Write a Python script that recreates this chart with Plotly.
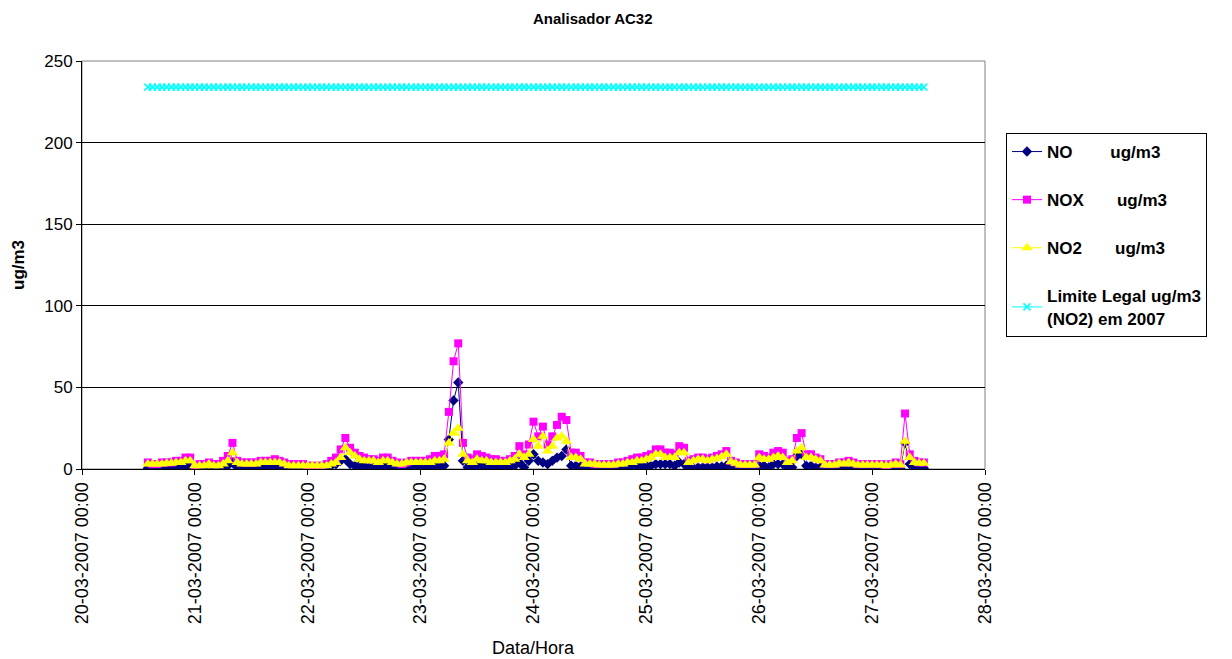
import pandas as pd
import plotly.graph_objects as go

# ---------------- data (hourly, 20-03-2007 14:00 .. 27-03-2007 11:00) ----------------
START = "2007-03-20 14:00"

NO = [
    # 20-03 14h-23h
    0.5, 0.3, 0.3, 0.5, 0.5, 0.8, 1.0, 1.0, 2.0, 1.5,
    # 21-03
    0.2, 0.5, 0.5, 0.5, 0.5, 0.5, 1.5, 2, 4, 1, 0.5, 0.5, 0.5, 0.5, 0.8, 0.8, 0.8, 1.5, 1, 0.5, 0.3, 0.3, 0.3, 0.3,
    # 22-03
    0.3, 0.2, 0.2, 0.2, 0.5, 2, 3, 5, 6, 3, 2, 2, 2, 1, 1, 1, 2, 2, 1, 1, 0.3, 0.3, 1, 1,
    # 23-03
    0.5, 0.5, 1, 2, 2, 2, 18, 42, 53, 5, 1, 1, 2, 2, 1, 1, 1, 1, 1, 1, 2, 4, 1, 5,
    # 24-03
    9, 5, 4, 3, 5, 7, 8, 12, 2, 2, 1.5, 1, 1, 0.5, 0.5, 0.5, 0.5, 0.5, 1, 1, 1, 2, 2, 2,
    # 25-03
    2, 2, 3, 3, 3, 3, 2, 4, 3, 0.5, 0.5, 1, 1, 1, 1, 1.5, 1.5, 2, 0.5, 0.3, 0.3, 0.3, 0.3, 0.3,
    # 26-03
    2, 2, 1, 3, 3, 3, 1, 1, 8, 9, 2, 2, 1, 1, 0.5, 0.5, 0.5, 0.5, 1, 1, 1, 0.5, 0.5, 0.5,
    # 27-03 0h-11h
    0.5, 0.3, 0.3, 0.3, 0.5, 1, 0.5, 16, 3, 1, 0.5, 0.5,
]

NOX = [
    4, 3, 3, 4, 4, 4, 5, 5, 7, 7,
    2, 3, 3, 4, 3, 3, 5, 8, 16, 5, 4, 4, 4, 4, 5, 5, 5, 6, 5, 4, 3, 3, 3, 3,
    2, 2, 2, 2, 3, 5, 7, 12, 19, 13, 10, 8, 7, 6, 6, 5, 7, 7, 5, 4, 3, 4, 5, 5,
    5, 5, 6, 8, 8, 9, 35, 66, 77, 16, 7, 6, 9, 8, 7, 6, 6, 5, 5, 6, 8, 14, 9, 15,
    29, 20, 26, 15, 20, 27, 32, 30, 10, 10, 8, 4, 4, 3, 3, 3, 3, 3, 4, 4, 5, 6, 7, 7,
    8, 9, 12, 12, 10, 10, 9, 14, 13, 5, 6, 7, 7, 6, 7, 8, 9, 11, 5, 4, 3, 3, 3, 3,
    9, 8, 7, 10, 11, 10, 5, 6, 19, 22, 9, 9, 7, 6, 3, 3, 3, 4, 4, 5, 4, 3, 3, 3,
    3, 3, 3, 2, 3, 4, 3, 34, 9, 5, 4, 4,
]

NO2 = [
    3, 3, 3, 3, 3.5, 3.5, 4, 4, 5, 5,
    2, 2, 2, 3, 2, 2, 3, 5, 10, 4, 3, 3, 3, 3, 4, 4, 4, 4, 4, 3, 2, 2, 2, 2,
    2, 2, 2, 2, 2, 3, 4, 7, 13, 10, 8, 6, 5, 5, 5, 4, 5, 5, 4, 3, 3, 4, 4, 4,
    4, 4, 4, 5, 5, 6, 16, 22, 25, 9, 5, 4, 6, 5, 5, 4, 4, 4, 4, 5, 6, 9, 7, 9,
    18, 14, 20, 11, 14, 19, 20, 17, 7, 7, 6, 3, 3, 3, 2.5, 2.5, 2.5, 2.5, 3, 3, 4, 4, 5, 5,
    6, 7, 9, 9, 7, 7, 7, 10, 10, 4, 5, 6, 6, 5, 6, 6.5, 7.5, 9, 4.5, 3.5, 2.5, 2.5, 2.5, 2.5,
    7, 6, 6, 7, 8, 7, 4, 5, 11, 13, 7, 7, 6, 5, 2.5, 2.5, 2.5, 3.5, 3, 4, 3, 2.5, 2.5, 2.5,
    2.5, 2.5, 2.5, 2, 2.5, 3, 2.5, 17, 7, 4, 3.5, 3.5,
]

LIMITE_VALOR = 234
LIMITE = [LIMITE_VALOR for _ in NO]

TIMES = pd.date_range(START, periods=len(NO), freq="h")

DAY_TICKS = pd.date_range("2007-03-20", "2007-03-28", freq="D")
DAY_LABELS = [d.strftime("%d-%m-%Y %H:%M") for d in DAY_TICKS]

NB = "\u00a0"
NAMES = [
    "<b>NO" + NB * 8 + "ug/m3</b>",
    "<b>NOX" + NB * 7 + "ug/m3</b>",
    "<b>NO2" + NB * 7 + "ug/m3</b>",
    "<b>Limite Legal ug/m3<br>(NO2) em 2007</b>",
]

FONT = "Liberation Sans, Arial, sans-serif"

fig = go.Figure()
fig.add_trace(go.Scatter(x=TIMES, y=NO, name=NAMES[0], mode="lines+markers",
                         line=dict(color="#000080", width=1),
                         marker=dict(symbol="diamond", size=8, color="#000080"),
                         legendgroup="a"))
fig.add_trace(go.Scatter(x=TIMES, y=NOX, name=NAMES[1], mode="lines+markers",
                         line=dict(color="#FF00FF", width=1),
                         marker=dict(symbol="square", size=8, color="#FF00FF"),
                         legendgroup="b"))
fig.add_trace(go.Scatter(x=TIMES, y=NO2, name=NAMES[2], mode="lines+markers",
                         line=dict(color="#FFFF00", width=1),
                         marker=dict(symbol="triangle-up", size=10, color="#FFFF00"),
                         legendgroup="c"))
fig.add_trace(go.Scatter(x=TIMES, y=LIMITE, name=NAMES[3], mode="lines+markers",
                         line=dict(color="#00FFFF", width=1),
                         marker=dict(symbol="x-thin", size=7, color="#00FFFF",
                                     line=dict(color="#00FFFF", width=1.5)),
                         legendgroup="d"))

# screen-pixel layout targets (the page body adds an 8 px offset)
OFF = 8
L, R, T, B = 82, 985, 61, 469
W, H = 1232 - OFF, 659 - OFF


def px(x):
    return (x - L) / (R - L)


def py(y):
    return (B - y) / (B - T)


fig.update_layout(
    width=W, height=H,
    margin=dict(l=L - OFF, r=W - (R - OFF), t=T - OFF, b=H - (B - OFF), pad=0),
    paper_bgcolor="white", plot_bgcolor="white",
    font=dict(family=FONT, size=17, color="black"),
    showlegend=True,
    legend=dict(x=px(1006), y=py(133), xanchor="left", yanchor="top",
                bordercolor="black", borderwidth=1, bgcolor="white",
                font=dict(family=FONT, size=17, color="black"),
                tracegroupgap=23, itemwidth=30, traceorder="grouped"),
    xaxis=dict(type="date", range=[DAY_TICKS[0], DAY_TICKS[-1]],
               tickmode="array", tickvals=DAY_TICKS, ticktext=DAY_LABELS,
               tickangle=-90, tickfont=dict(size=18),
               ticks="outside", ticklen=5, tickcolor="black",
               showline=True, linecolor="black", linewidth=1,
               showgrid=False, zeroline=False, mirror=False),
    yaxis=dict(range=[0, 250], tickmode="linear", tick0=0, dtick=50,
               tickfont=dict(size=17), ticks="outside", ticklen=5, tickcolor="black",
               showline=True, linecolor="black", linewidth=1,
               showgrid=True, gridcolor="black", gridwidth=1, zeroline=False),
    annotations=[
        dict(text="<b>Analisador AC32</b>", xref="paper", yref="paper",
             x=px(592), y=py(19), xanchor="center", yanchor="middle",
             showarrow=False, font=dict(size=15)),
        dict(text="<b>ug/m3</b>", xref="paper", yref="paper",
             x=px(18), y=py(265), xanchor="center", yanchor="middle",
             textangle=-90, showarrow=False, font=dict(size=17)),
        dict(text="Data/Hora", xref="paper", yref="paper",
             x=px(533), y=py(648), xanchor="center", yanchor="middle",
             showarrow=False, font=dict(size=18)),
    ],
    shapes=[
        dict(type="rect", xref="paper", yref="paper", x0=0, x1=1, y0=0, y1=1,
             line=dict(color="#808080", width=1), layer="below"),
    ],
)

fig.write_html("out.html")
